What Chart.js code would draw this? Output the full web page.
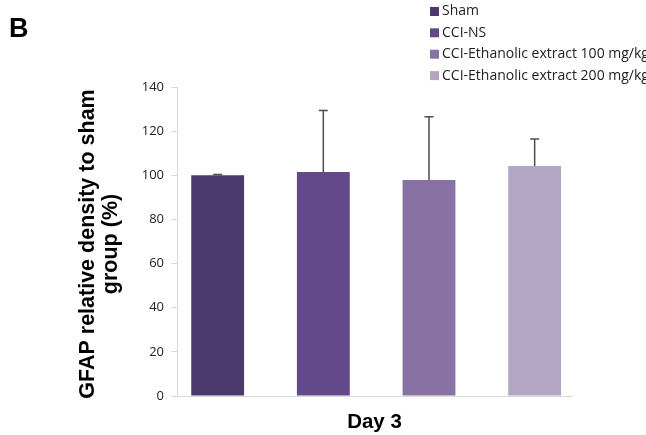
<!DOCTYPE html>
<html>
<head>
<meta charset="utf-8">
<script src="https://cdn.jsdelivr.net/npm/chart.js@4"></script>
<style>
html,body{margin:0;padding:0;background:#fff;}
#wrap{position:relative;width:646px;height:435px;overflow:hidden;}
canvas{display:block;}
</style>
</head>
<body>
<div id="wrap"><canvas id="c" width="646" height="435"></canvas></div>
<script>
const categories = ['Day 3'];
const seriesNames = ['Sham', 'CCI-NS', 'CCI-Ethanolic extract 100 mg/kg', 'CCI-Ethanolic extract 200 mg/kg'];
const seriesValues = [100.0, 101.5, 97.9, 104.2];
const seriesErrors = [0.4, 27.8, 28.6, 12.2];
const seriesColors = ['#4b3a6c', '#63498a', '#8772a3', '#b3a5c4'];
const yTicks = [0, 20, 40, 60, 80, 100, 120, 140];
const yTitle = ['GFAP relative density to sham', 'group (%)'];
const panelLabel = 'B';

const datasets = seriesNames.map((name, i) => ({
  label: name,
  data: categories.map((c, j) => ({ x: j, y: seriesValues[i] })),
  errors: [seriesErrors[i]],
  backgroundColor: seriesColors[i],
  borderWidth: 0,
  categoryPercentage: 1.07,
  barPercentage: 0.5
}));

const errorBars = {
  id: 'errorBars',
  afterDatasetsDraw(chart) {
    const ctx = chart.ctx;
    const ys = chart.scales.y;
    ctx.save();
    ctx.strokeStyle = '#4d4d4d';
    ctx.lineWidth = 1.5;
    chart.data.datasets.forEach((ds, i) => {
      const meta = chart.getDatasetMeta(i);
      meta.data.forEach((bar, j) => {
        const v = ds.data[j].y, e = ds.errors[j];
        const yTop = ys.getPixelForValue(v + e);
        ctx.beginPath();
        ctx.moveTo(bar.x, bar.y);
        ctx.lineTo(bar.x, yTop);
        ctx.moveTo(bar.x - 4.5, yTop);
        ctx.lineTo(bar.x + 4.5, yTop);
        ctx.stroke();
      });
    });
    ctx.restore();
  }
};

const texts = {
  id: 'texts',
  afterDraw(chart) {
    const ctx = chart.ctx;
    ctx.save();
    // panel label
    ctx.fillStyle = '#000';
    ctx.font = 'bold 27px "Liberation Sans", Arial, sans-serif';
    ctx.textBaseline = 'alphabetic';
    ctx.textAlign = 'left';
    ctx.fillText(panelLabel, 9, 37);
    // y title
    ctx.font = 'bold 21.5px "Liberation Sans", Arial, sans-serif';
    ctx.textAlign = 'center';
    const cy = 244;
    const baseX = [94, 117];
    yTitle.forEach((line, k) => {
      ctx.save();
      ctx.translate(baseX[k], cy);
      ctx.rotate(-Math.PI / 2);
      ctx.fillText(line, 0, 0);
      ctx.restore();
    });
    // legend
    ctx.font = '14px "Open Sans", sans-serif';
    ctx.textAlign = 'left';
    ctx.textBaseline = 'middle';
    const rowY = [11.5, 32.8, 54.2, 75.6];
    chart.data.datasets.forEach((ds, i) => {
      ctx.fillStyle = ds.backgroundColor;
      ctx.fillRect(430, rowY[i] - 4.5, 9, 9);
      ctx.fillStyle = '#222';
      ctx.fillText(ds.label, 442, rowY[i]);
    });
    ctx.restore();
  }
};

new Chart(document.getElementById('c'), {
  type: 'bar',
  data: { labels: categories, datasets },
  options: {
    responsive: false,
    animation: false,
    layout: { padding: { left: 0, right: 74, top: 87, bottom: 0 } },
    plugins: { legend: { display: false }, tooltip: { enabled: false } },
    scales: {
      x: {
        type: 'linear',
        min: -0.5084,
        max: 0.4916,
        afterBuildTicks(s) { s.ticks = categories.map((c, j) => ({ value: j })); },
        ticks: { display: false },
        grid: { display: false },
        border: { display: true, color: '#d9d9d9', width: 1 },
        title: {
          display: true,
          text: 'Day 3',
          color: '#000',
          font: { family: '"Liberation Sans", Arial, sans-serif', size: 20.5, weight: 'bold' },
          padding: { top: 0, bottom: 0 }
        },
        afterFit(s) { s.height = 39; }
      },
      y: {
        min: 0,
        max: 140,
        afterBuildTicks(s) { s.ticks = yTicks.map(v => ({ value: v })); },
        ticks: {
          color: '#222',
          font: { family: '"Open Sans", sans-serif', size: 13 },
          padding: 7
        },
        grid: { drawOnChartArea: false, drawTicks: true, tickLength: 6, color: '#d9d9d9' },
        border: { display: true, color: '#d9d9d9', width: 1 },
        afterFit(s) { s.width = 177; }
      }
    }
  },
  plugins: [errorBars, texts]
});
</script>
</body>
</html>
